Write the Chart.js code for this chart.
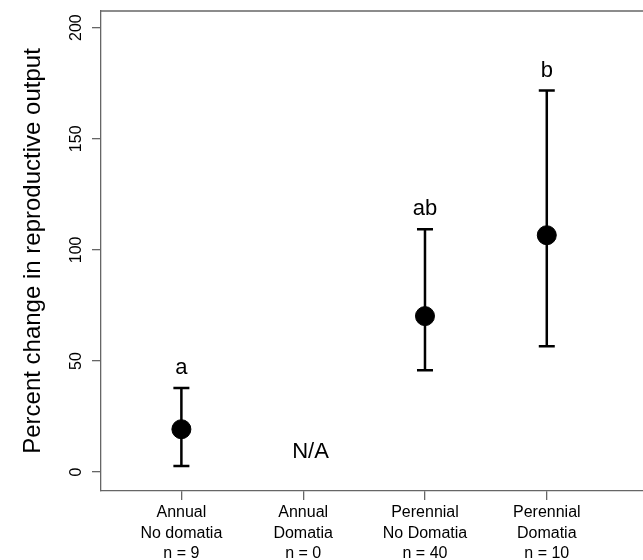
<!DOCTYPE html>
<html>
<head>
<meta charset="utf-8">
<script src="https://cdn.jsdelivr.net/npm/chart.js@4.4.1/dist/chart.umd.min.js"></script>
<style>
  html, body { margin: 0; padding: 0; background: #fff; overflow: hidden; }
  #wrap { width: 643px; height: 560px; }
  canvas { display: block; }
</style>
</head>
<body>
<div id="wrap"><canvas id="chart"></canvas></div>
<script>
// groups along the x axis (one tick each)
const categories = [
  ['Annual', 'No domatia', 'n = 9'],
  ['Annual', 'Domatia', 'n = 0'],
  ['Perennial', 'No Domatia', 'n = 40'],
  ['Perennial', 'Domatia', 'n = 10']
];
const means = [19.3, null, 70.2, 106.6];
const lower = [2.7, null, 45.8, 56.6];
const upper = [37.8, null, 109.3, 171.7];
const letters = ['a', '', 'ab', 'b'];
const yTicks = [0, 50, 100, 150, 200];
const missingLabel = 'N/A';

const FONT = '"Liberation Sans", Arial, sans-serif';
const FRAME = '#666';

const points = means.map((m, i) => ({ x: i + 1, y: m })).filter(p => p.y !== null);

// error bars, letters, N/A, rotated y tick labels and the top frame line
const extras = {
  id: 'extras',
  beforeDatasetsDraw(chart) {
    const ctx = chart.ctx, xs = chart.scales.x, ys = chart.scales.y;
    ctx.save();
    ctx.strokeStyle = '#000';
    ctx.lineWidth = 2.5;
    means.forEach((m, i) => {
      if (m === null) return;
      const px = xs.getPixelForValue(i + 1);
      const top = ys.getPixelForValue(upper[i]);
      const bot = ys.getPixelForValue(lower[i]);
      ctx.beginPath();
      ctx.moveTo(px, top); ctx.lineTo(px, bot);
      ctx.moveTo(px - 8, top); ctx.lineTo(px + 8, top);
      ctx.moveTo(px - 8, bot); ctx.lineTo(px + 8, bot);
      ctx.stroke();
    });
    ctx.restore();
  },
  afterDraw(chart) {
    const ctx = chart.ctx, xs = chart.scales.x, ys = chart.scales.y;
    const area = chart.chartArea;
    ctx.save();
    ctx.strokeStyle = FRAME;
    ctx.lineWidth = 1.3;
    ctx.beginPath();
    ctx.moveTo(area.left, area.top); ctx.lineTo(area.right, area.top);
    ctx.stroke();

    ctx.fillStyle = '#000';
    ctx.textAlign = 'center';
    ctx.textBaseline = 'middle';

    // y tick labels, read bottom to top
    ctx.font = '16px ' + FONT;
    yTicks.forEach(v => {
      ctx.save();
      ctx.translate(77, ys.getPixelForValue(v));
      ctx.rotate(-Math.PI / 2);
      ctx.fillText(String(v), 0, 0);
      ctx.restore();
    });

    ctx.font = '22px ' + FONT;
    letters.forEach((t, i) => {
      if (!t) return;
      ctx.fillText(t, xs.getPixelForValue(i + 1), ys.getPixelForValue(upper[i]) - 20);
    });
    ctx.fillText(missingLabel, xs.getPixelForValue(2.06), ys.getPixelForValue(9));
    ctx.restore();
  }
};

new Chart(document.getElementById('chart'), {
  type: 'scatter',
  data: {
    datasets: [{
      data: points,
      pointRadius: 9.5,
      pointHoverRadius: 9.5,
      backgroundColor: '#000',
      borderColor: '#000'
    }]
  },
  options: {
    responsive: true,
    maintainAspectRatio: false,
    animation: false,
    events: [],
    layout: { autoPadding: false, padding: { top: 11, right: 0, left: 0, bottom: 0 } },
    plugins: { legend: { display: false }, tooltip: { enabled: false } },
    scales: {
      x: {
        type: 'linear',
        min: 0.34,
        max: 4.79,
        afterBuildTicks: s => { s.ticks = categories.map((c, i) => ({ value: i + 1 })); },
        afterFit: s => { s.height = 69; s.paddingLeft = 0; s.paddingRight = 0; },
        grid: { drawOnChartArea: false, tickLength: 9, color: FRAME, lineWidth: 1.3 },
        border: { display: true, color: FRAME, width: 1.3 },
        ticks: {
          autoSkip: false,
          maxRotation: 0,
          padding: 2,
          color: '#000',
          font: { family: FONT, size: 16, lineHeight: 1.3 },
          callback: v => categories[v - 1] || ''
        }
      },
      y: {
        min: -8.5,
        max: 207.5,
        afterBuildTicks: s => { s.ticks = yTicks.map(v => ({ value: v })); },
        afterFit: s => { s.width = 101; s.paddingTop = 0; s.paddingBottom = 0; },
        grid: { drawOnChartArea: false, tickLength: 9, color: FRAME, lineWidth: 1.3 },
        border: { display: true, color: FRAME, width: 1.3 },
        ticks: { display: false },
        title: {
          display: true,
          text: 'Percent change in reproductive output',
          color: '#000',
          font: { family: FONT, size: 24 },
          padding: { top: 19, bottom: 0 }
        }
      }
    }
  },
  plugins: [extras]
});
</script>
</body>
</html>
